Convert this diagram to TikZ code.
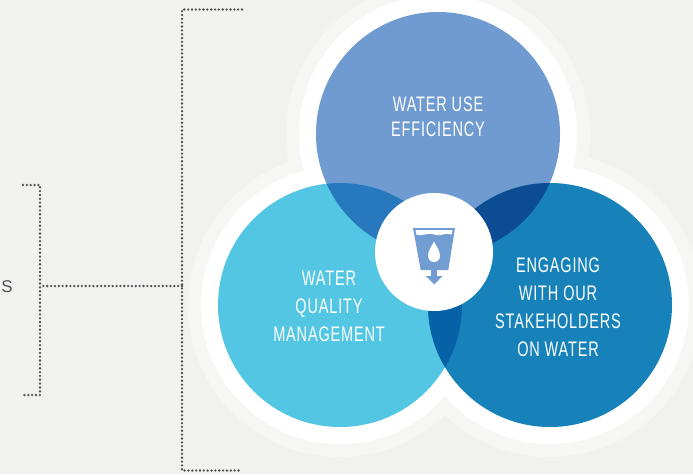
\documentclass[tikz,border=0pt]{standalone}
\usepackage{fontspec}
\newfontfamily\labelfont[FakeStretch=0.69,LetterSpace=4]{Liberation Sans}
\newfontfamily\sidefont{Liberation Sans}
\usetikzlibrary{positioning}

\definecolor{bgC}{HTML}{F1F2F0}
\definecolor{haloC}{HTML}{F6F7F5}
\definecolor{topC}{HTML}{6F9BD0}
\definecolor{leftC}{HTML}{53C6E4}
\definecolor{rightC}{HTML}{1682B9}
\definecolor{tlC}{HTML}{2878BD}
\definecolor{trC}{HTML}{0B4C93}
\definecolor{lrC}{HTML}{0761A6}
\definecolor{iconC}{HTML}{729DD3}
\definecolor{dotC}{HTML}{505153}

\begin{document}
\begin{tikzpicture}[x=1pt,y=-1pt,
    halo/.style={fill=haloC},
    ring/.style={fill=white},
    lbl/.style={text=white,align=center,font=\labelfont\fontsize{21}{28}\selectfont},
    dots/.style={draw=dotC,line width=2.6pt,line cap=round,dash pattern=on 0pt off 3.85pt}]
    \useasboundingbox[fill=bgC] (0,0) rectangle (693,474);

    % circle centres
    \coordinate (ct) at (438,134);
    \coordinate (cl) at (340,305);
    \coordinate (cr) at (550,305);
    \coordinate (cm) at (434,252);

    \foreach \c in {ct,cl,cr} \fill[halo] (\c) circle[radius=152pt];
    \foreach \c in {ct,cl,cr} \fill[ring] (\c) circle[radius=139pt];

    \fill[topC]   (ct) circle[radius=122pt];
    \fill[leftC]  (cl) circle[radius=122pt];
    \fill[rightC] (cr) circle[radius=122pt];

    % overlaps
    \begin{scope}
      \clip (ct) circle[radius=122pt];
      \fill[tlC] (cl) circle[radius=122pt];
      \fill[trC] (cr) circle[radius=122pt];
    \end{scope}
    \begin{scope}
      \clip (cl) circle[radius=122pt];
      \fill[lrC] (cr) circle[radius=122pt];
    \end{scope}

    % centre badge
    \fill[white] (cm) circle[radius=59pt];
    \fill[iconC] (413,228) -- (455,228) -- (448.3,270) -- (420.7,270) -- cycle;
    \fill[white] (415.6,230.2) -- (452.4,230.2) -- (451.7,234.5)
      .. controls (445,232) and (441,237) .. (434,234.5)
      .. controls (427,232) and (422,237) .. (416.3,234.5) -- cycle;
    \fill[white] (434,241.7) .. controls (437,247) and (440,251) .. (440,256)
      arc[start angle=0,end angle=-180,radius=6pt]
      .. controls (428,251) and (431,247) .. (434,241.7) -- cycle;
    \fill[iconC] (431,269) rectangle (437.3,276.5);
    \fill[iconC] (425.7,276) -- (442.7,276) -- (434.2,284.3) -- cycle;

    % labels
    \node[lbl,font=\labelfont\fontsize{21}{25}\selectfont] (use) at (438,117) {WATER USE\\EFFICIENCY};
    \node[lbl] (qual)  at (329,306.5) {WATER\\QUALITY\\MANAGEMENT};
    \node[lbl] (stake) at (558,307.5) {ENGAGING\\WITH OUR\\STAKEHOLDERS\\ON WATER};
    \node[text=dotC,font=\sidefont\fontsize{17}{17}\selectfont] (s) at (7,287) {S};

    % brackets
    \coordinate (b1) at (242,9.5);
    \coordinate (b2) at (182,9.5);
    \coordinate (b3) at (182,470.5);
    \coordinate (b4) at (242,470.5);
    \draw[dots] (b1) -- (b2) -- (b3) -- (b4);
    \coordinate (m1) at (182,286);
    \coordinate (m2) at (40,286);
    \draw[dots] (m1) -- (m2);
    \coordinate (k1) at (23,185);
    \coordinate (k2) at (40,185);
    \coordinate (k3) at (40,395);
    \coordinate (k4) at (23,395);
    \draw[dots] (k1) -- (k2) -- (k3) -- (k4);
\end{tikzpicture}
\end{document}
